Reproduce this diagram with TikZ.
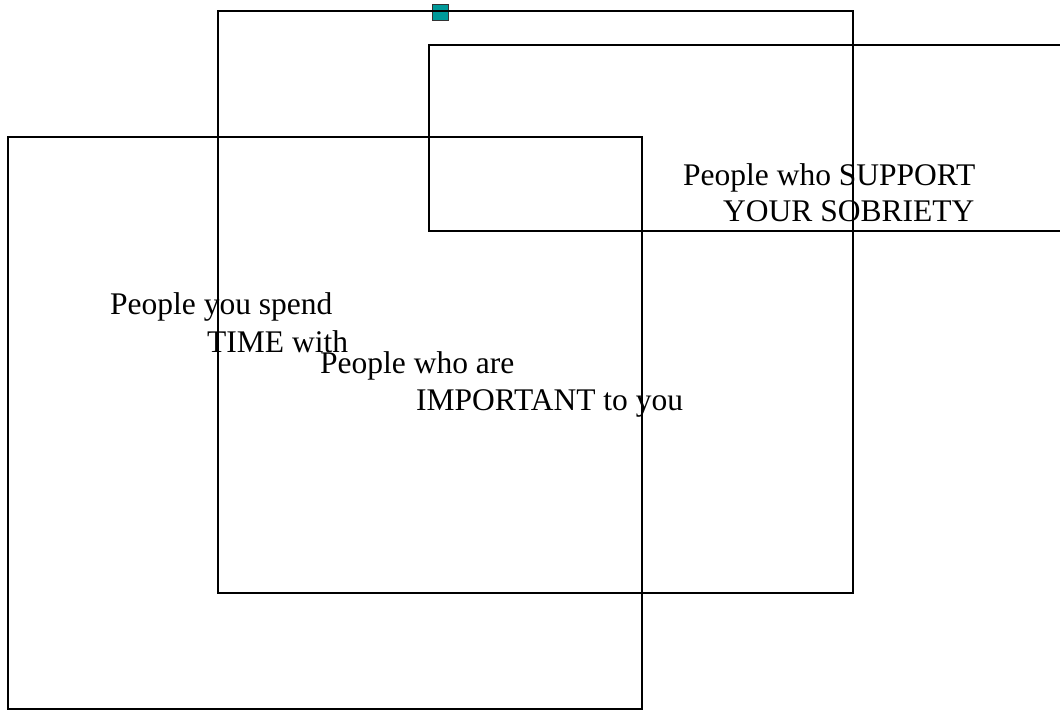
\documentclass[tikz,border=0pt]{standalone}
\usepackage{fontspec}
\setmainfont{Liberation Serif}
\definecolor{teal1}{RGB}{0,153,153}
\begin{document}
\begin{tikzpicture}[x=1pt,y=-1pt,
  lbl/.style={anchor=base west,inner sep=0pt,font=\fontsize{31.5}{37}\selectfont},
  frame/.style={draw=black,line width=2pt}]
\useasboundingbox (0,0) rectangle (1060,711);
\clip (0,0) rectangle (1060,711);
\node[lbl] (s1) at (683,186) {People who SUPPORT};
\node[lbl] (s2) at (723,222) {YOUR SOBRIETY};
\node[lbl] (t1) at (110,315) {People you spend};
\node[lbl] (t2) at (207,352) {TIME with};
\node[lbl] (i1) at (320,373) {People who are};
\node[lbl] (i2) at (416,410) {IMPORTANT to you};
\filldraw[fill=teal1,draw=black!80,line width=1pt] (432.5,4.5) rectangle (448.5,20.5);
\draw[frame] (218,11) rectangle (853,593);
\draw[frame] (1070,45) -- (429,45) -- (429,231) -- (1070,231);
\draw[frame] (8,137) rectangle (642,709);
\end{tikzpicture}
\end{document}
